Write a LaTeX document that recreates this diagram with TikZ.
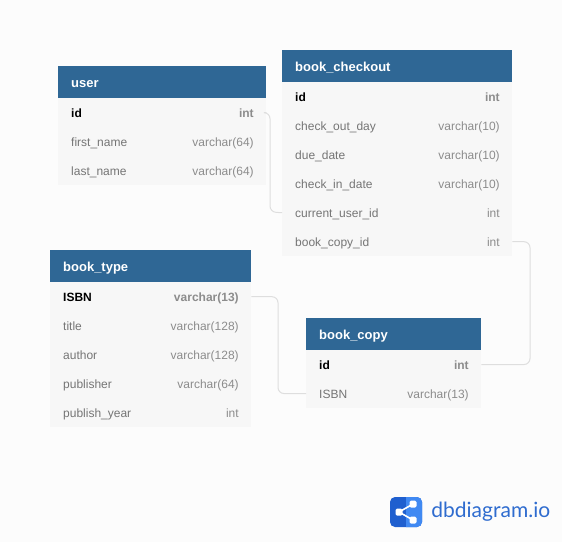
\documentclass[tikz,border=0pt]{standalone}
\usepackage{fontspec}
\setmainfont{Liberation Sans}
\newfontfamily\logofont{Lato}
\usetikzlibrary{positioning,calc}
\definecolor{pagebg}{HTML}{FCFCFC}
\definecolor{headblue}{HTML}{2F6795}
\definecolor{rowbg}{HTML}{F7F7F7}
\definecolor{rowtxt}{HTML}{757575}
\definecolor{typetxt}{HTML}{8C8C8C}
\definecolor{linkgray}{HTML}{DEDEDE}
\definecolor{logoblue}{HTML}{1F5FCF}
\definecolor{logolight}{HTML}{4089F2}
\definecolor{logotxt}{HTML}{2F6CCF}
\newcommand{\keyrow}[2]{\hspace*{0.5pt}\textbf{\textcolor{black}{#1}}\hfill\textbf{\textcolor{typetxt}{#2}}}
\newcommand{\plainrow}[2]{\hspace*{0.5pt}#1\hfill\textcolor{typetxt}{#2}}

\begin{document}
\begin{tikzpicture}[x=1pt,y=-1pt,
head/.style={fill=headblue,text=white,font=\fontsize{13}{14}\selectfont\bfseries,minimum height=32pt,inner ysep=0pt,inner xsep=13pt,text height=12pt,text depth=2pt,align=left,anchor=north west},
row/.style={fill=rowbg,text=rowtxt,font=\fontsize{12}{14}\selectfont,minimum height=29pt,inner ysep=0pt,inner xsep=12.5pt,text height=12pt,text depth=3pt,anchor=north west,align=left},
link/.style={draw=linkgray,line width=1pt,rounded corners=6pt},
dot/.style={fill=white,rounded corners=1.5pt,inner sep=0pt,minimum size=7pt}]
\path[use as bounding box,fill=pagebg] (0,0) rectangle (562,542);
% user
\node[head,text width=182pt] (user) at (58,66) {user};
\node[row,text width=183pt] (userid) at (58,98) {\keyrow{id}{int}};
\node[row,text width=183pt] (userfirst) at (58,127) {\plainrow{first\_name}{varchar(64)}};
\node[row,text width=183pt] (userlast) at (58,156) {\plainrow{last\_name}{varchar(64)}};
% book_checkout
\node[head,text width=204pt] (checkout) at (282,50) {book\_checkout};
\node[row,text width=205pt] (checkoutid) at (282,82) {\keyrow{id}{int}};
\node[row,text width=205pt] (checkoutout) at (282,111) {\plainrow{check\_out\_day}{varchar(10)}};
\node[row,text width=205pt] (checkoutdue) at (282,140) {\plainrow{due\_date}{varchar(10)}};
\node[row,text width=205pt] (checkoutin) at (282,169) {\plainrow{check\_in\_date}{varchar(10)}};
\node[row,text width=205pt] (checkoutuser) at (282,198) {\plainrow{current\_user\_id}{int}};
\node[row,text width=205pt] (checkoutcopy) at (282,227) {\plainrow{book\_copy\_id}{int}};
% book_type
\node[head,text width=175pt] (type) at (50,250) {book\_type};
\node[row,text width=176pt] (typeisbn) at (50,282) {\keyrow{ISBN}{varchar(13)}};
\node[row,text width=176pt] (typetitle) at (50,311) {\plainrow{title}{varchar(128)}};
\node[row,text width=176pt] (typeauthor) at (50,340) {\plainrow{author}{varchar(128)}};
\node[row,text width=176pt] (typepub) at (50,369) {\plainrow{publisher}{varchar(64)}};
\node[row,text width=176pt] (typeyear) at (50,398) {\plainrow{publish\_year}{int}};
% book_copy
\node[head,text width=149pt] (copy) at (306,318) {book\_copy};
\node[row,text width=150pt] (copyid) at (306,350) {\keyrow{id}{int}};
\node[row,text width=150pt] (copyisbn) at (306,379) {\plainrow{ISBN}{varchar(13)}};
% links
\draw[link] (userid.east)-|(270,212)--(checkoutuser.west);
\draw[link] (checkoutcopy.east)-|(530,364.5)--(copyid.east);
\draw[link] (typeisbn.east)-|(278,393.5)--(copyisbn.west);
% logo
\node[fill=logoblue,rounded corners=5pt,minimum width=32pt,minimum height=30pt,inner sep=0pt] (logo) at (406,512) {};
\begin{scope}
\clip (406,497) rectangle (422,527);
\fill[logolight,rounded corners=5pt] (390,497) rectangle (422,527);
\end{scope}
\node[dot] (logoa) at (399,512) {};
\node[dot] (logob) at (413,504) {};
\node[dot] (logoc) at (413,520) {};
\draw[white,line width=1.6pt] (logob.center)--(logoa.center)--(logoc.center);
\node[text=logotxt,font=\logofont\fontsize{21}{23}\selectfont,right=9pt of logo,inner sep=0pt] (logoname) {dbdiagram.io};
\end{tikzpicture}
\end{document}
